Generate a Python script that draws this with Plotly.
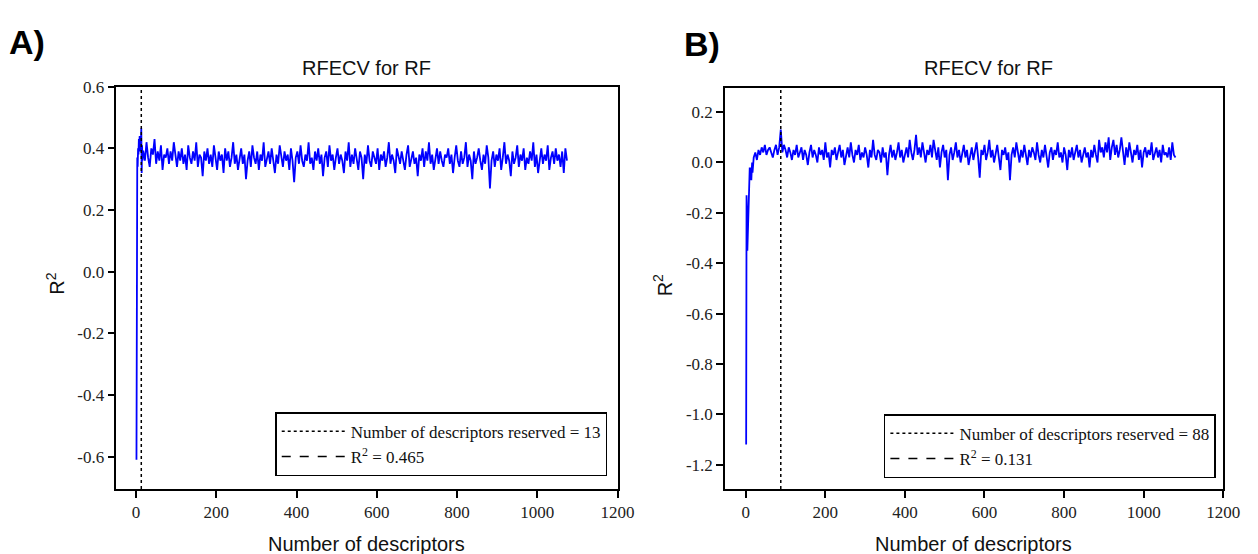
import plotly.graph_objects as go

W, H = 1258, 554

# ---------------- data: panel A ----------------
xa_early = [1, 2, 3, 4, 5, 6, 7, 8, 9, 10, 11, 12, 13, 14, 15, 16, 17]
ya_early = [-0.61, 0.12, 0.37, 0.34, 0.40, 0.38, 0.43, 0.41, 0.44, 0.39,
            0.42, 0.40, 0.465, 0.32, 0.41, 0.36, 0.39]
xa_main = list(range(18, 1075, 4))
ya_main = [
    0.39, 0.36, 0.42, 0.37, 0.34, 0.40, 0.38, 0.43, 0.35, 0.39,
    0.36, 0.41, 0.33, 0.38, 0.37, 0.40, 0.35, 0.39, 0.36, 0.42,
    0.37, 0.34, 0.39, 0.36, 0.40, 0.35, 0.38, 0.33, 0.41, 0.37,
    0.35, 0.39, 0.36, 0.42, 0.34, 0.38, 0.37, 0.31, 0.39, 0.36,
    0.40, 0.35, 0.38, 0.34, 0.41, 0.37, 0.33, 0.39, 0.36, 0.38,
    0.32, 0.40, 0.36, 0.39, 0.34, 0.37, 0.42, 0.35, 0.38, 0.33,
    0.37, 0.40, 0.35, 0.38, 0.30, 0.36, 0.39, 0.34, 0.41, 0.37,
    0.35, 0.39, 0.33, 0.38, 0.36, 0.42, 0.34, 0.37, 0.39, 0.35,
    0.40, 0.36, 0.32, 0.38, 0.35, 0.41, 0.37, 0.34, 0.39, 0.36,
    0.38, 0.33, 0.40, 0.36, 0.29, 0.37, 0.39, 0.35, 0.41, 0.36,
    0.34, 0.38, 0.36, 0.42, 0.35, 0.37, 0.33, 0.39, 0.36, 0.40,
    0.35, 0.38, 0.31, 0.37, 0.39, 0.34, 0.41, 0.36, 0.38, 0.33,
    0.37, 0.40, 0.35, 0.38, 0.36, 0.32, 0.39, 0.36, 0.42, 0.34,
    0.38, 0.35, 0.40, 0.36, 0.33, 0.39, 0.37, 0.30, 0.38, 0.35,
    0.41, 0.36, 0.34, 0.39, 0.37, 0.35, 0.40, 0.33, 0.38, 0.36,
    0.39, 0.34, 0.37, 0.42, 0.35, 0.38, 0.36, 0.32, 0.40, 0.37,
    0.35, 0.39, 0.36, 0.33, 0.38, 0.41, 0.34, 0.37, 0.39, 0.35,
    0.37, 0.31, 0.38, 0.36, 0.40, 0.34, 0.39, 0.36, 0.42, 0.35,
    0.38, 0.33, 0.37, 0.40, 0.35, 0.39, 0.36, 0.34, 0.38, 0.37,
    0.40, 0.35, 0.38, 0.32, 0.37, 0.41, 0.36, 0.34, 0.39, 0.35,
    0.37, 0.42, 0.34, 0.38, 0.36, 0.30, 0.39, 0.35, 0.37, 0.40,
    0.36, 0.33, 0.38, 0.35, 0.41, 0.37, 0.27, 0.36, 0.39, 0.34,
    0.38, 0.36, 0.40, 0.33, 0.37, 0.42, 0.35, 0.38, 0.36, 0.31,
    0.39, 0.35, 0.37, 0.41, 0.34, 0.38, 0.36, 0.40, 0.33, 0.37,
    0.35, 0.39, 0.36, 0.42, 0.34, 0.38, 0.32, 0.37, 0.40, 0.35,
    0.38, 0.36, 0.41, 0.33, 0.37, 0.39, 0.35, 0.40, 0.36, 0.38,
    0.34, 0.39, 0.32, 0.40, 0.36,
]
sel_a = 13
best_a = 0.465

# ---------------- data: panel B ----------------
xb_early = [1, 2, 3, 4, 5, 6, 7, 8, 9, 10, 11, 12, 13, 14, 15, 16, 17, 18, 19]
yb_early = [-1.12, -0.13, -0.20, -0.35, -0.30, -0.19, -0.22, -0.10, -0.07, -0.02,
            -0.05, -0.02, -0.06, -0.07, -0.03, 0.00, -0.04, 0.01, 0.00]
xb_main = list(range(20, 1081, 4))
yb_main = [
    0.02, 0.04, 0.01, 0.05, 0.03, 0.06, 0.04, 0.07, 0.03, 0.05,
    0.06, 0.04, 0.02, 0.05, 0.07, 0.03, 0.06, 0.131, 0.04, 0.07,
    0.05, 0.02, 0.06, 0.04, 0.01, 0.05, 0.03, 0.07, 0.02, 0.04,
    0.06, 0.01, 0.05, 0.03, -0.01, 0.04, 0.07, 0.02, 0.05, 0.03,
    0.00, 0.06, 0.03, 0.05, 0.01, 0.08, 0.02, 0.04, -0.02, 0.05,
    0.03, 0.06, 0.01, 0.04, 0.07, 0.02, 0.05, -0.01, 0.03, 0.06,
    0.02, 0.08, 0.03, 0.00, 0.05, 0.03, 0.07, 0.01, 0.04, 0.02,
    0.06, 0.03, -0.02, 0.05, 0.02, 0.09, 0.03, 0.01, 0.05, 0.04,
    0.00, 0.06, 0.02, 0.04, -0.05, 0.03, 0.07, 0.02, 0.05, 0.01,
    0.04, 0.08, 0.02, 0.05, 0.00, 0.03, 0.06, 0.02, 0.09, 0.04,
    0.01, 0.05, 0.11, 0.03, 0.06, 0.02, 0.08, 0.04, 0.00, 0.05,
    0.03, 0.07, 0.02, 0.09, 0.04, 0.01, 0.06, -0.02, 0.04, 0.07,
    0.02, 0.05, -0.07, 0.03, 0.06, 0.01, 0.04, 0.08, 0.02, 0.05,
    0.00, 0.04, 0.07, 0.02, 0.05, -0.01, 0.03, 0.06, 0.01, 0.04,
    0.08, 0.02, -0.06, 0.05, 0.03, 0.07, 0.01, 0.04, 0.09, 0.02,
    0.05, 0.00, 0.04, 0.07, 0.02, -0.03, 0.05, 0.03, 0.06, 0.01,
    0.04, -0.07, 0.03, 0.06, 0.02, 0.08, 0.04, 0.00, 0.05, 0.02,
    0.07, 0.03, -0.01, 0.05, 0.02, 0.06, 0.04, 0.01, 0.08, 0.03,
    0.00, 0.05, 0.02, 0.07, 0.03, -0.02, 0.04, 0.06, 0.01, 0.05,
    0.03, 0.08, 0.02, 0.04, 0.00, 0.06, 0.03, -0.03, 0.05, 0.02,
    0.06, 0.01, 0.04, 0.07, 0.02, 0.05, 0.00, 0.03, 0.06, 0.02,
    0.04, -0.02, 0.05, 0.02, 0.07, 0.03, 0.00, 0.09, 0.04, 0.06,
    0.02, 0.08, 0.04, 0.10, 0.01, 0.06, 0.09, 0.03, 0.07, 0.02,
    0.05, 0.10, 0.03, -0.01, 0.06, 0.02, 0.08, 0.04, 0.00, 0.05,
    0.03, 0.07, 0.01, 0.05, -0.02, 0.04, 0.06, 0.02, 0.05, 0.03,
    0.08, 0.01, 0.04, 0.06, 0.02, 0.05, 0.00, 0.07, 0.03, 0.04,
    0.02, 0.06, 0.01, 0.08, 0.03, 0.02,
]
sel_b = 88
best_b = 0.131

x_ticks = [0, 200, 400, 600, 800, 1000, 1200]
ya_ticks = [-0.6, -0.4, -0.2, 0.0, 0.2, 0.4, 0.6]
yb_ticks = [-1.2, -1.0, -0.8, -0.6, -0.4, -0.2, 0.0, 0.2]

ya_range = [-0.705, 0.6]
yb_range = [-1.297, 0.297]
x_range_a = [-49, 1200]
x_range_b = [-52, 1200]

# ---------------- layout helpers ----------------
def px(x):
    return x / W

def py(y):
    return 1 - y / H

SERIF = "Liberation Serif"
SANS = "Liberation Sans"

fig = go.Figure()

# Panel A
fig.add_trace(go.Scatter(x=xa_early + xa_main, y=ya_early + ya_main, mode="lines",
                         line=dict(color="#0000ff", width=1.8), showlegend=False,
                         xaxis="x", yaxis="y"))
fig.add_trace(go.Scatter(x=[sel_a, sel_a], y=ya_range, mode="lines",
                         line=dict(color="black", width=1.5, dash="dot"),
                         name=f"Number of descriptors reserved = {sel_a}",
                         xaxis="x", yaxis="y", legend="legend"))
fig.add_trace(go.Scatter(x=[None], y=[None], mode="lines",
                         line=dict(color="black", width=1.5, dash="dash"),
                         name=f"R<sup>2</sup> = {best_a:.3f}",
                         xaxis="x", yaxis="y", legend="legend"))

# Panel B
fig.add_trace(go.Scatter(x=xb_early + xb_main, y=yb_early + yb_main, mode="lines",
                         line=dict(color="#0000ff", width=1.8), showlegend=False,
                         xaxis="x2", yaxis="y2"))
fig.add_trace(go.Scatter(x=[sel_b, sel_b], y=yb_range, mode="lines",
                         line=dict(color="black", width=1.5, dash="dot"),
                         name=f"Number of descriptors reserved = {sel_b}",
                         xaxis="x2", yaxis="y2", legend="legend2"))
fig.add_trace(go.Scatter(x=[None], y=[None], mode="lines",
                         line=dict(color="black", width=1.5, dash="dash"),
                         name=f"R<sup>2</sup> = {best_b:.3f}",
                         xaxis="x2", yaxis="y2", legend="legend2"))

axis_common = dict(showline=True, linecolor="black", linewidth=1.6, mirror=True,
                   ticks="outside", ticklen=7, tickwidth=1.6, tickcolor="black",
                   showgrid=False, zeroline=False,
                   tickfont=dict(family=SERIF, size=17, color="#222"))

legend_common = dict(bgcolor="white", bordercolor="black", borderwidth=1.5,
                     font=dict(family=SERIF, size=17, color="#111"),
                     itemwidth=64, tracegroupgap=0, xanchor="left", yanchor="bottom")

fig.update_layout(
    width=W, height=H, margin=dict(l=0, r=0, t=0, b=0),
    paper_bgcolor="white", plot_bgcolor="white",
    xaxis=dict(domain=[px(118), px(626)], range=x_range_a, tickvals=x_ticks,
               ticktext=[str(v) for v in x_ticks], anchor="y", **axis_common),
    yaxis=dict(domain=[py(488), py(79)], range=ya_range, tickvals=ya_ticks,
               ticktext=[f"{v:.1f}" for v in ya_ticks], anchor="x", **axis_common),
    xaxis2=dict(domain=[px(735), px(1240)], range=x_range_b, tickvals=x_ticks,
                ticktext=[str(v) for v in x_ticks], anchor="y2", **axis_common),
    yaxis2=dict(domain=[py(488), py(80)], range=yb_range, tickvals=yb_ticks,
                ticktext=[f"{v:.1f}" for v in yb_ticks], anchor="x2", **axis_common),
    legend=dict(x=px(279), y=py(475), **legend_common),
    legend2=dict(x=px(896), y=py(477), **legend_common),
)

ann = []
title_font = dict(family=SANS, size=20, color="#111")
label_font = dict(family=SANS, size=34, color="black")
ann.append(dict(x=px(7), y=py(34), xref="paper", yref="paper", text="<b>A)</b>",
                showarrow=False, xanchor="left", yanchor="middle", font=label_font))
ann.append(dict(x=px(691), y=py(36), xref="paper", yref="paper", text="<b>B)</b>",
                showarrow=False, xanchor="left", yanchor="middle", font=label_font))
ann.append(dict(x=px(372), y=py(60), xref="paper", yref="paper", text="RFECV for RF",
                showarrow=False, xanchor="center", yanchor="middle", font=title_font))
ann.append(dict(x=px(1002), y=py(60), xref="paper", yref="paper", text="RFECV for RF",
                showarrow=False, xanchor="center", yanchor="middle", font=title_font))
ann.append(dict(x=px(372), y=py(544), xref="paper", yref="paper", text="Number of descriptors",
                showarrow=False, xanchor="center", yanchor="middle", font=title_font))
ann.append(dict(x=px(987), y=py(544), xref="paper", yref="paper", text="Number of descriptors",
                showarrow=False, xanchor="center", yanchor="middle", font=title_font))
ann.append(dict(x=px(56), y=py(279), xref="paper", yref="paper", text="R<sup>2</sup>",
                showarrow=False, xanchor="center", yanchor="middle", textangle=-90,
                font=title_font))
ann.append(dict(x=px(672), y=py(281), xref="paper", yref="paper", text="R<sup>2</sup>",
                showarrow=False, xanchor="center", yanchor="middle", textangle=-90,
                font=title_font))
fig.update_layout(annotations=ann)

fig.write_html(
    "out.html",
    post_script="document.body.style.margin='0';document.body.style.overflow='hidden';",
)
